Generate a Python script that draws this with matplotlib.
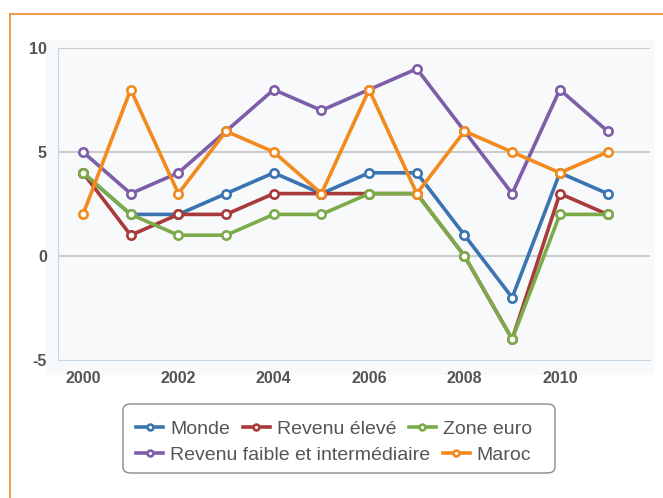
import matplotlib
matplotlib.use("Agg")
import matplotlib.pyplot as plt
from matplotlib.lines import Line2D
from matplotlib.patches import FancyBboxPatch

years = list(range(2000, 2012))
monde = [4, 2, 2, 3, 4, 3, 4, 4, 1, -2, 4, 3]
revenu_eleve = [4, 1, 2, 2, 3, 3, 3, 3, 0, -4, 3, 2]
zone_euro = [4, 2, 1, 1, 2, 2, 3, 3, 0, -4, 2, 2]
revenu_faible = [5, 3, 4, 6, 8, 7, 8, 9, 6, 3, 8, 6]
maroc = [2, 8, 3, 6, 5, 3, 8, 3, 6, 5, 4, 5]

series = [
    ("Monde", monde, "#3b74b0"),
    ("Revenu élevé", revenu_eleve, "#a83a3a"),
    ("Zone euro", zone_euro, "#7cab4a"),
    ("Revenu faible et intermédiaire", revenu_faible, "#7d5ea8"),
    ("Maroc", maroc, "#f28a1e"),
]
yticks = [-5, 0, 5, 10]
xticks = [2000, 2002, 2004, 2006, 2008, 2010]

plt.rcParams['font.family'] = ['Liberation Sans', 'DejaVu Sans']

fig = plt.figure(figsize=(6.63, 4.98), dpi=100)
W, H = 663, 498

# panel background
bg = fig.add_axes([45 / W, 1 - 375 / H, (655 - 45) / W, (375 - 40) / H], zorder=0)
bg.set_facecolor("#f7f9fb")
bg.set_xticks([]); bg.set_yticks([])
for s in bg.spines.values():
    s.set_visible(False)

# orange frame
fig.add_artist(Line2D([10 / W, 1], [1 - 14 / H, 1 - 14 / H], transform=fig.transFigure,
                      color="#ef8a2a", lw=1.2))
fig.add_artist(Line2D([10 / W, 10 / W], [0, 1 - 14 / H], transform=fig.transFigure,
                      color="#ef8a2a", lw=1.2))

ax = fig.add_axes([58 / W, 1 - 360 / H, (650 - 58) / W, (360 - 48) / H], zorder=2)
ax.set_facecolor("none")
ax.set_xlim(1999.476, 2011.89)
ax.set_ylim(-5, 10)

for y in [0, 5, 10]:
    ax.axhline(y, color="#c2c2c2", lw=1.2, zorder=1)

for name, vals, col in series:
    ax.plot(years, vals, color=col, lw=2.6, marker="o", ms=6, mfc="white",
            mec=col, mew=1.9, label=name, zorder=3)

for s in ["top", "right"]:
    ax.spines[s].set_visible(False)
ax.spines["left"].set_color("#c9d6e3")
ax.spines["bottom"].set_color("#c9d6e3")

ax.set_yticks(yticks)
ax.set_yticklabels([str(v) for v in yticks])
ax.set_xticks(xticks)
ax.set_xticklabels([str(v) for v in xticks])
ax.tick_params(length=0, labelsize=11.5, labelcolor="#555555", pad=8)
for lab in ax.get_xticklabels() + ax.get_yticklabels():
    lab.set_fontweight("bold")

handles, labels = ax.get_legend_handles_labels()

# legend box
fig.patches.append(FancyBboxPatch((123 / W, 1 - 473 / H), (555 - 123) / W, (473 - 404) / H,
                                  boxstyle="round,pad=0,rounding_size=0.012",
                                  transform=fig.transFigure, facecolor="white",
                                  edgecolor="#8a8a8a", lw=1.0, zorder=3))

common = dict(frameon=False, fontsize=14, handlelength=1.4, handletextpad=0.35,
              columnspacing=0.65, borderpad=0, borderaxespad=0, markerscale=0.7)
leg1 = fig.legend(handles[:3], labels[:3], loc="center left",
                  bbox_to_anchor=(136 / W, 1 - 429 / H), ncol=3, **common)
leg2 = fig.legend(handles[3:], labels[3:], loc="center left",
                  bbox_to_anchor=(136 / W, 1 - 455 / H), ncol=2, **common)
for leg in (leg1, leg2):
    leg.set_zorder(4)
    for t in leg.get_texts():
        t.set_color("#555555")

fig.savefig("out.png", dpi=100)
